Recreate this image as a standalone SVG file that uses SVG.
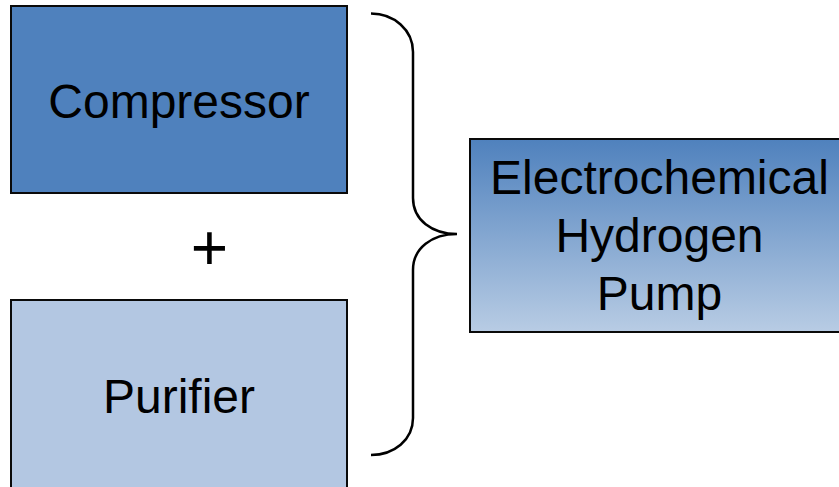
<svg xmlns="http://www.w3.org/2000/svg" width="839" height="487" viewBox="0 0 839 487">
<style>
.box{stroke:#0a0a0a;stroke-width:2}
.lbl{font-family:"Liberation Sans",Arial,sans-serif;font-size:48px;fill:#000;text-anchor:middle}
.brace{fill:none;stroke:#000;stroke-width:2.5}
</style>
<defs>
<linearGradient id="g" x1="0" y1="0" x2="0" y2="1">
<stop offset="0" stop-color="#4f81bd"/>
<stop offset="1" stop-color="#b8cce4"/>
</linearGradient>
</defs>
<rect width="839" height="487" fill="#fff"/>
<g id="compressor">
<rect class="box" x="11" y="6" width="336" height="187" fill="#4f81bd"/>
<text class="lbl" x="179" y="118">Compressor</text>
</g>
<g id="plus">
<text x="209.5" y="270" font-family="Liberation Sans, Arial, sans-serif" font-size="64" text-anchor="middle" fill="#000">+</text>
</g>
<g id="purifier">
<rect class="box" x="11" y="300" width="336" height="200" fill="#b3c7e2"/>
<text class="lbl" x="179" y="413">Purifier</text>
</g>
<g id="connectors">
<path class="brace" d="M371,13.5 C394,13.5 413,30 413,52 V198 C413,220 432,234 457,234 C432,234 413,248 413,270 V418 C413,440 394,455 371,455"/>
</g>
<g id="ehp">
<rect class="box" x="470" y="139" width="400" height="193" fill="url(#g)"/>
<text class="lbl" x="659.5" y="194">Electrochemical</text>
<text class="lbl" x="659.5" y="252">Hydrogen</text>
<text class="lbl" x="659.5" y="310">Pump</text>
</g>
</svg>
